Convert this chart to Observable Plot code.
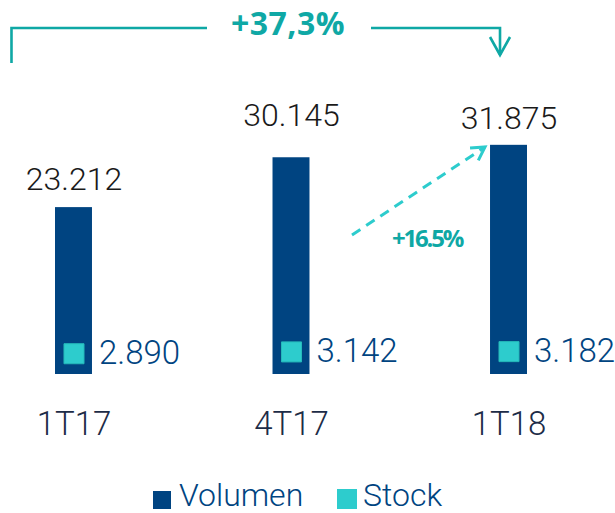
<!DOCTYPE html>
<html><head><meta charset="utf-8">
<script src="https://cdn.jsdelivr.net/npm/d3@7"></script>
<script src="https://cdn.jsdelivr.net/npm/@observablehq/plot@0.6"></script>
<style>
body{margin:0;background:#fff;font-family:Roboto,"Noto Sans",sans-serif;}
#chart{position:relative;width:615px;height:513px;overflow:hidden;}
#legend{position:absolute;left:0;top:470px;width:615px;height:43px;font-family:Roboto,sans-serif;font-weight:300;font-size:32px;color:#004481;}
#legend .sw{position:absolute;}
#legend .lb{position:absolute;top:4px;line-height:43px;white-space:nowrap;}
</style></head>
<body><div id="chart"></div>
<script>
const periods = ["1T17", "4T17", "1T18"];
const volumen = [23212, 30145, 31875];
const stock = [2890, 3142, 3182];
const seriesNames = ["Volumen", "Stock"];
const totalChangeLabel = "+37,3%";
const lastChangeLabel = "+16.5%";

const navy = "#004481", cyan = "#2DCCCD", teal = "#0FA8A5";
const data = periods.map((p, i) => ({period: p, volumen: volumen[i], stock: stock[i]}));
const es = d3.formatLocale({decimal: ",", thousands: ".", grouping: [3], currency: ["", "€"]});
const fmt = es.format(",d");
const labelDy = {"1T17": -18, "4T17": -32, "1T18": -16};

function annotations(index, scales) {
  const x = scales.x;
  const bw = typeof x.bandwidth === "function" ? x.bandwidth() : (x.bandwidth || 0);
  const cx = p => x(p) + bw / 2;
  const ns = "http://www.w3.org/2000/svg";
  const g = document.createElementNS(ns, "g");
  const add = (tag, attrs, text) => {
    const el = document.createElementNS(ns, tag);
    for (const k in attrs) el.setAttribute(k, attrs[k]);
    if (text) el.textContent = text;
    g.appendChild(el);
    return el;
  };
  const [p0, p1, p2] = periods;
  const yb = 28;
  // bracket
  add("path", {d: `M${cx(p0) - 62},63V${yb}H${cx(p1) - 84}`, fill: "none", stroke: teal, "stroke-width": 2.6});
  add("path", {d: `M${cx(p1) + 80},${yb}H${cx(p2) - 8.5}V55`, fill: "none", stroke: teal, "stroke-width": 2.6});
  add("path", {d: `M${cx(p2) - 18.5},37L${cx(p2) - 8.5},55L${cx(p2) + 1.5},37`, fill: "none", stroke: teal, "stroke-width": 2.6});
  add("text", {x: cx(p1) - 3, y: 35, "text-anchor": "middle", fill: teal, "font-family": "'Open Sans', sans-serif", "font-weight": 700, "font-size": 32, "letter-spacing": 0.5}, totalChangeLabel);
  // dashed arrow
  const x1 = cx(p1) + 61, y1 = 235, x2 = cx(p2) - 23.5, y2 = 147;
  add("path", {d: `M${x1},${y1}L${x2},${y2}`, fill: "none", stroke: cyan, "stroke-width": 3, "stroke-dasharray": "10,7"});
  const a = Math.atan2(y2 - y1, x2 - x1), h = 15, s = Math.PI / 6;
  add("path", {d: `M${x2 - h * Math.cos(a - s)},${y2 - h * Math.sin(a - s)}L${x2},${y2}L${x2 - h * Math.cos(a + s)},${y2 - h * Math.sin(a + s)}`, fill: "none", stroke: cyan, "stroke-width": 3});
  add("text", {x: cx(p1) + 136, y: 247, "text-anchor": "middle", fill: teal, "font-family": "'Open Sans', sans-serif", "font-weight": 700, "font-size": 24, "letter-spacing": -2.2}, lastChangeLabel);
  return g;
}

const plot = Plot.plot({
  width: 615, height: 470, margin: 0,
  x: {domain: periods, range: [55, 527], paddingInner: 0.83, paddingOuter: 0, round: false, axis: null},
  y: {domain: [0, 40000], range: [374, 86.4], axis: null},
  style: {fontFamily: "Roboto, sans-serif", background: "transparent", overflow: "visible"},
  marks: [
    Plot.barY(data, {x: "period", y: "volumen", fill: navy}),
    Plot.dot(data, {x: "period", y: "stock", symbol: "square", r: 11.3, fill: cyan, stroke: "#25b9ba", strokeWidth: 1}),
    Plot.text(data, {x: "period", y: "stock", text: d => fmt(d.stock), dx: 25, textAnchor: "start", lineAnchor: "middle", fontSize: 33, fontWeight: 300, fill: navy}),
    ...periods.map(p => Plot.text(data.filter(d => d.period === p), {x: "period", y: "volumen", text: d => fmt(d.volumen), dy: labelDy[p], lineAnchor: "bottom", fontSize: 32, fontWeight: 300, fill: "#1a1a1a"})),
    Plot.text(data, {x: "period", y: () => 0, text: "period", dy: 60, lineAnchor: "bottom", fontSize: 33, fontWeight: 300, fill: "#1d2c47"}),
    annotations
  ]
});

const chart = document.getElementById("chart");
chart.appendChild(plot);
const legend = document.createElement("div");
legend.id = "legend";
const items = [
  {name: seriesNames[0], color: navy, sx: 153, sy: 21, size: 18, tx: 179},
  {name: seriesNames[1], color: cyan, sx: 337, sy: 19, size: 20, tx: 363}
];
for (const it of items) {
  const sw = document.createElement("div");
  sw.className = "sw";
  sw.style.cssText = `left:${it.sx}px;top:${it.sy}px;width:${it.size}px;height:${it.size}px;background:${it.color}`;
  legend.appendChild(sw);
  const lb = document.createElement("div");
  lb.className = "lb";
  lb.style.left = it.tx + "px";
  lb.textContent = it.name;
  legend.appendChild(lb);
}
chart.appendChild(legend);
</script>
</body></html>
